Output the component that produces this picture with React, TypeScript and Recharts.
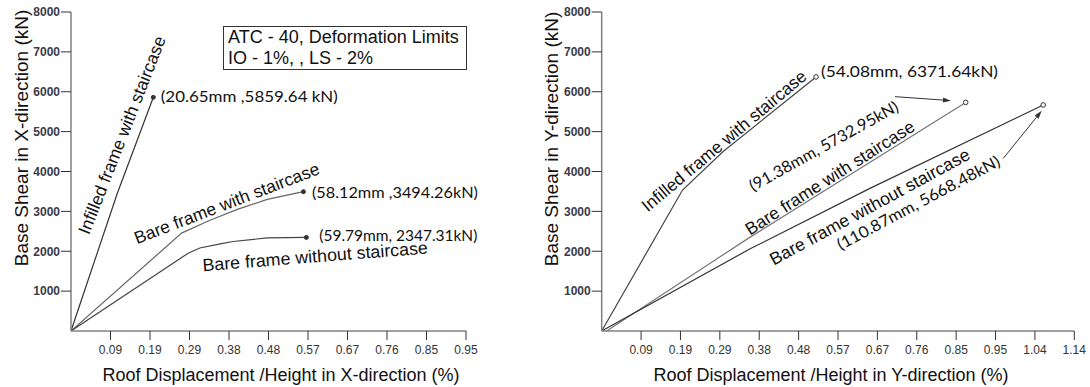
import { LineChart, Line, XAxis, YAxis, ReferenceDot, ReferenceLine } from 'recharts';

// tick labels (% drift), one tick every ~0.095 %
const xTickLabelsX = ['0.09', '0.19', '0.29', '0.38', '0.48', '0.57', '0.67', '0.76', '0.85', '0.95'];
const xTickLabelsY = [...xTickLabelsX, '1.04', '1.14'];
const yTicks = [1000, 2000, 3000, 4000, 5000, 6000, 7000, 8000];

// X-direction pushover curves (drift %, base shear kN)
const infilledXDrift = [0, 0.111, 0.198];
const infilledXShear = [0, 3442, 5860];
const bareStairXDrift = [0, 0.266, 0.33, 0.4, 0.472, 0.559];
const bareStairXShear = [0, 2455, 2760, 3050, 3300, 3494];
const bareXDrift = [0, 0.282, 0.31, 0.359, 0.39, 0.472, 0.566];
const bareXShear = [0, 1952, 2081, 2186, 2244, 2337, 2347];

// Y-direction pushover curves
const infilledYDrift = [0, 0.195, 0.293, 0.517];
const infilledYShear = [0, 3536, 4500, 6372];
const bareStairYDrift = [0.012, 0.357, 0.878];
const bareStairYShear = [0, 2348, 5733];
const bareYDrift = [0, 0.357, 0.647, 1.065];
const bareYShear = [0, 2056, 3576, 5668];

const FONT = '"Liberation Sans", Arial, sans-serif';
const NOTE_FONT = 'Lato, "Noto Sans", sans-serif';

const pts = (xs: number[], ys: number[]) => xs.map((x, i) => ({ x, y: ys[i] }));
const last = (xs: number[], ys: number[]) => ({ x: xs[xs.length - 1], y: ys[ys.length - 1] });

type Series = { name: string; xs: number[]; ys: number[]; color: string };
type Note = { x: number; y: number; text: string; angle: number; len: number; size: number; font?: string };
type EndNote = { at: { x: number; y: number }; text: string; dx: number; dy: number; len: number; hollow?: boolean };
type Arrow = { from: [number, number]; to: [number, number] };

const arrowShape = (p: any) => {
  const { x1, y1, x2, y2 } = p;
  const a = Math.atan2(y2 - y1, x2 - x1);
  const L = 8;
  const W = 2.5;
  const bx = x2 - L * Math.cos(a);
  const by = y2 - L * Math.sin(a);
  const poly = `${x2},${y2} ${bx - W * Math.sin(a)},${by + W * Math.cos(a)} ${bx + W * Math.sin(a)},${by - W * Math.cos(a)}`;
  return (
    <g>
      <line x1={x1} y1={y1} x2={bx} y2={by} stroke="#333" strokeWidth={1} />
      <polygon points={poly} fill="#333" />
    </g>
  );
};

function Panel(props: {
  left: number;
  width: number;
  marginLeft: number;
  axisWidth: number;
  marginRight: number;
  xMax: number;
  tickLabels: string[];
  series: Series[];
  notes: Note[];
  ends: EndNote[];
  arrows: Arrow[];
  xTitle: string;
  xTitleX: number;
  yTitle: string;
  yTitleX: number;
  yTitleY: number;
}) {
  const ticks = props.tickLabels.map((_, i) => Number((0.095 * (i + 1)).toFixed(3)));
  return (
    <div style={{ position: 'absolute', left: props.left, top: 0 }}>
      <LineChart
        width={props.width}
        height={387}
        margin={{ top: 12, right: props.marginRight, bottom: 26, left: props.marginLeft }}
        style={{ overflow: 'visible' }}
      >
        <XAxis
          type="number"
          dataKey="x"
          domain={[0, props.xMax]}
          ticks={ticks}
          interval={0}
          allowDataOverflow
          tickFormatter={(v: number, i: number) => props.tickLabels[i]}
          tickSize={9}
          tickMargin={5}
          height={30}
          axisLine={{ stroke: '#808080', strokeWidth: 1.5 }}
          tickLine={{ stroke: '#333' }}
          tick={{ fill: '#333', fontSize: 12, fontFamily: FONT }}
          label={{
            content: () => (
              <text x={props.xTitleX} y={375} textAnchor="middle" dominantBaseline="central"
                fontSize={18} fontFamily={FONT} fill="#111">
                {props.xTitle}
              </text>
            ),
          }}
        />
        <YAxis
          type="number"
          domain={[0, 8000]}
          ticks={yTicks}
          interval={0}
          width={props.axisWidth}
          tickSize={10}
          tickMargin={1}
          axisLine={{ stroke: '#808080', strokeWidth: 1.5 }}
          tickLine={{ stroke: '#333' }}
          tick={{ fill: '#3a3a48', fontSize: 12, fontWeight: 'bold', fontFamily: FONT }}
          label={{
            content: () => (
              <text x={props.yTitleX} y={props.yTitleY} textAnchor="middle" dominantBaseline="central"
                fontSize={19} fontFamily={FONT} fill="#111"
                transform={`rotate(-90 ${props.yTitleX} ${props.yTitleY})`}>
                {props.yTitle}
              </text>
            ),
          }}
        />
        {props.series.map((s) => (
          <Line
            key={s.name}
            data={pts(s.xs, s.ys)}
            dataKey="y"
            name={s.name}
            type="linear"
            stroke={s.color}
            strokeWidth={1.2}
            dot={false}
            activeDot={false}
            isAnimationActive={false}
          />
        ))}
        {props.arrows.map((a, i) => (
          <ReferenceLine
            key={`arrow-${i}`}
            segment={[{ x: a.from[0], y: a.from[1] }, { x: a.to[0], y: a.to[1] }]}
            ifOverflow="visible"
            shape={arrowShape}
          />
        ))}
        {props.ends.map((e, i) => (
          <ReferenceDot
            key={`end-${i}`}
            x={e.at.x}
            y={e.at.y}
            r={2}
            ifOverflow="visible"
            shape={(p: any) => (
              <g>
                <circle cx={p.cx} cy={p.cy} r={e.hollow ? 2.3 : 2} fill={e.hollow ? '#fff' : '#333'} stroke="#333" strokeWidth={1} />
                <text x={p.cx + e.dx} y={p.cy + e.dy} dominantBaseline="central" fontSize={16}
                  fontFamily={NOTE_FONT} fill="#111" textLength={e.len} lengthAdjust="spacingAndGlyphs">
                  {e.text}
                </text>
              </g>
            )}
          />
        ))}
        {props.notes.map((n, i) => (
          <ReferenceDot
            key={`note-${i}`}
            x={n.x}
            y={n.y}
            r={1}
            ifOverflow="visible"
            shape={(p: any) => (
              <text x={p.cx} y={p.cy} textAnchor="middle" dominantBaseline="central"
                fontSize={n.size} fontFamily={n.font ?? FONT} fill="#111"
                textLength={n.len} lengthAdjust="spacingAndGlyphs"
                transform={`rotate(${n.angle} ${p.cx} ${p.cy})`}>
                {n.text}
              </text>
            )}
          />
        ))}
      </LineChart>
    </div>
  );
}

export default function App() {
  return (
    <div style={{ position: 'absolute', left: 0, top: 0, width: 1090, height: 387, background: '#fff' }}>
      <Panel
        left={0}
        width={545}
        marginLeft={11}
        axisWidth={60}
        marginRight={79}
        xMax={0.95}
        tickLabels={xTickLabelsX}
        series={[
          { name: 'Infilled frame with staircase', xs: infilledXDrift, ys: infilledXShear, color: '#333' },
          { name: 'Bare frame with staircase', xs: bareStairXDrift, ys: bareStairXShear, color: '#666' },
          { name: 'Bare frame without staircase', xs: bareXDrift, ys: bareXShear, color: '#444' },
        ]}
        notes={[
          { x: 0.1227, y: 4915, text: 'Infilled frame with staircase', angle: -68.6, len: 211, size: 17.5 },
          { x: 0.3747, y: 3203, text: 'Bare frame with staircase', angle: -21, len: 197, size: 17.5 },
          { x: 0.587, y: 1873, text: 'Bare frame without staircase', angle: -4.5, len: 226, size: 17.5 },
        ]}
        ends={[
          { at: last(infilledXDrift, infilledXShear), text: '(20.65mm ,5859.64 kN)', dx: 7.5, dy: -1.5, len: 177 },
          { at: last(bareStairXDrift, bareStairXShear), text: '(58.12mm ,3494.26kN)', dx: 8.5, dy: 0, len: 166 },
          { at: last(bareXDrift, bareXShear), text: '(59.79mm, 2347.31kN)', dx: 13, dy: -2.5, len: 158 },
        ]}
        arrows={[]}
        xTitle="Roof Displacement /Height in X-direction (%)"
        xTitleX={281}
        yTitle="Base Shear in X-direction (kN)"
        yTitleX={21.5}
        yTitleY={138}
      />
      <Panel
        left={540}
        width={550}
        marginLeft={6.7}
        axisWidth={55}
        marginRight={15.7}
        xMax={1.14}
        tickLabels={xTickLabelsY}
        series={[
          { name: 'Infilled frame with staircase', xs: infilledYDrift, ys: infilledYShear, color: '#444' },
          { name: 'Bare frame with staircase', xs: bareStairYDrift, ys: bareStairYShear, color: '#777' },
          { name: 'Bare frame without staircase', xs: bareYDrift, ys: bareYShear, color: '#333' },
        ]}
        notes={[
          { x: 0.295, y: 4770, text: 'Infilled frame with staircase', angle: -40, len: 209, size: 17.5 },
          { x: 0.5345, y: 4657, text: '(91.38mm, 5732.95kN)', angle: -29, len: 168, size: 16, font: NOTE_FONT },
          { x: 0.5502, y: 3845, text: 'Bare frame with staircase', angle: -32.5, len: 197, size: 17.5 },
          { x: 0.6464, y: 3115, text: 'Bare frame without staircase', angle: -28.5, len: 225, size: 17.5 },
          { x: 0.7629, y: 3235, text: '(110.87mm, 5668.48kN)', angle: -28, len: 182, size: 16, font: NOTE_FONT },
        ]}
        ends={[
          { at: last(infilledYDrift, infilledYShear), text: '(54.08mm, 6371.64kN)', dx: 5, dy: -6.5, len: 177, hollow: true },
          { at: last(bareStairYDrift, bareStairYShear), text: '', dx: 0, dy: 0, len: 0, hollow: true },
          { at: last(bareYDrift, bareYShear), text: '', dx: 0, dy: 0, len: 0, hollow: true },
        ]}
        arrows={[
          { from: [0.7074, 5877], to: [0.8425, 5777] },
          { from: [0.9686, 4328], to: [1.0613, 5521] },
        ]}
        xTitle="Roof Displacement /Height in Y-direction (%)"
        xTitleX={291}
        yTitle="Base Shear in Y-direction (kN)"
        yTitleX={11}
        yTitleY={139}
      />
      <div
        style={{
          position: 'absolute',
          left: 223,
          top: 26,
          width: 244,
          height: 44,
          boxSizing: 'border-box',
          border: '1px solid #333',
          fontFamily: FONT,
          fontSize: 18,
          lineHeight: '21px',
          paddingLeft: 4,
          color: '#111',
          whiteSpace: 'nowrap',
        }}
      >
        <div>ATC - 40, Deformation Limits</div>
        <div>IO - 1%, , LS - 2%</div>
      </div>
    </div>
  );
}
